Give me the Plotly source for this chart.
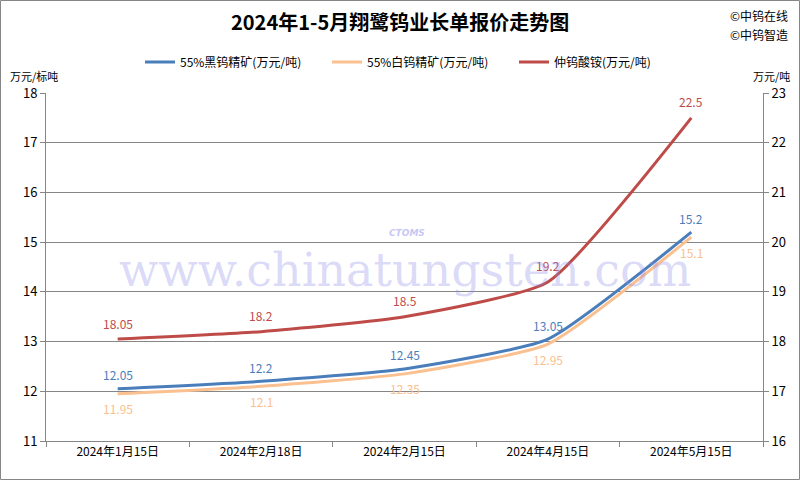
import plotly.graph_objects as go

categories = ["2024年1月15日", "2024年2月18日", "2024年2月15日", "2024年4月15日", "2024年5月15日"]
black_w = [12.05, 12.2, 12.45, 13.05, 15.2]
white_w = [11.95, 12.1, 12.35, 12.95, 15.1]
apt = [18.05, 18.2, 18.5, 19.2, 22.5]

names = ["55%黑钨精矿(万元/吨)", "55%白钨精矿(万元/吨)", "仲钨酸铵(万元/吨)"]
colors = ["#4A7EBB", "#FAC090", "#BE4B48"]

font = "Noto Sans CJK SC"
L, R, T, B = 46, 37, 93, 39
W, H = 800, 480
PW, PH = W - L - R, H - T - B

fig = go.Figure()
line_kw = dict(width=3, shape="spline", smoothing=0.5)
fig.add_trace(go.Scatter(x=categories, y=white_w, name=names[1], mode="lines",
                         line=dict(color=colors[1], **line_kw), legendrank=2))
fig.add_trace(go.Scatter(x=categories, y=black_w, name=names[0], mode="lines",
                         line=dict(color=colors[0], **line_kw), legendrank=1))
fig.add_trace(go.Scatter(x=categories, y=apt, name=names[2], mode="lines", yaxis="y2",
                         line=dict(color=colors[2], **line_kw), legendrank=3))

def fmt(v):
    return "%g" % v

for series, col, shift, yref in [(black_w, colors[0], 14, "y"), (white_w, colors[1], -15, "y"),
                                 (apt, colors[2], 16, "y2")]:
    for c, v in zip(categories, series):
        fig.add_annotation(x=c, y=v, xref="x", yref=yref, text=fmt(v), showarrow=False,
                           yshift=shift, font=dict(color=col, size=12, family=font))

fig.update_layout(
    width=W, height=H,
    margin=dict(l=L, r=R, t=T, b=B, autoexpand=False),
    paper_bgcolor="white", plot_bgcolor="white",
    font=dict(family=font, size=12, color="#000000"),
    showlegend=True,
    legend=dict(orientation="h", x=(140 - L) / PW, xanchor="left", y=1 + (T - 62) / PH, yref="paper",
                yanchor="middle", traceorder="normal", font=dict(size=12, family=font),
                itemwidth=30, entrywidth=142, entrywidthmode="pixels", bgcolor="rgba(0,0,0,0)"),
    xaxis=dict(type="category", range=[-0.5, 4.5], tickson="boundaries", ticks="outside",
               ticklen=5, tickcolor="#868686", showline=True, linecolor="#868686", linewidth=1,
               showgrid=False, tickfont=dict(size=12, family=font), automargin=False),
    yaxis=dict(range=[11, 18], dtick=1, ticks="outside", ticklen=5, tickcolor="#868686",
               showline=True, linecolor="#868686", gridcolor="#868686", gridwidth=1,
               zeroline=False, tickfont=dict(size=13, family=font), automargin=False),
    yaxis2=dict(range=[16, 23], dtick=1, overlaying="y", side="right", ticks="outside",
                ticklen=5, tickcolor="#868686", showline=True, linecolor="#868686",
                showgrid=False, zeroline=False, tickfont=dict(size=13, family=font),
                automargin=False),
)

annotations = [
    dict(text="<b>2024年1-5月翔鹭钨业长单报价走势图</b>", x=400, y=22,
         font=dict(size=20, family=font, color="#000")),
    dict(text="©中钨在线", x=790, y=15, font=dict(size=12, family=font, color="#000"), xanchor="right"),
    dict(text="©中钨智造", x=790, y=35, font=dict(size=12, family=font, color="#000"), xanchor="right"),
    dict(text="万元/标吨", x=8, y=76, font=dict(size=11, family=font, color="#000"), xanchor="left"),
    dict(text="万元/吨", x=792, y=76, font=dict(size=11, family=font, color="#000"), xanchor="right"),
    dict(text="www.chinatungsten.com", x=405, y=270,
         font=dict(size=46, family="DejaVu Serif", color="rgba(140,140,235,0.32)")),
    dict(text="<b><i>CTOMS</i></b>", x=407, y=233,
         font=dict(size=9, family="DejaVu Sans", color="rgba(140,140,235,0.5)")),
]
for a in annotations:
    xpx, ypx = a.pop("x"), a.pop("y")
    a.update(xref="paper", yref="paper", showarrow=False,
             x=(xpx - L) / PW, y=1 - (ypx - T) / PH, yanchor="middle")
    a.setdefault("xanchor", "center")
    fig.add_annotation(**a)

fig.add_shape(type="rect", xref="paper", yref="paper",
              x0=(-L + 0.5) / PW, x1=1 + (R - 0.5) / PW,
              y0=(-B + 0.5) / PH, y1=1 + (T - 0.5) / PH,
              line=dict(color="#868686", width=1))

fig.write_html("out.html", config={"displayModeBar": False},
               post_script="document.body.style.margin='0';document.body.style.overflow='hidden';")
